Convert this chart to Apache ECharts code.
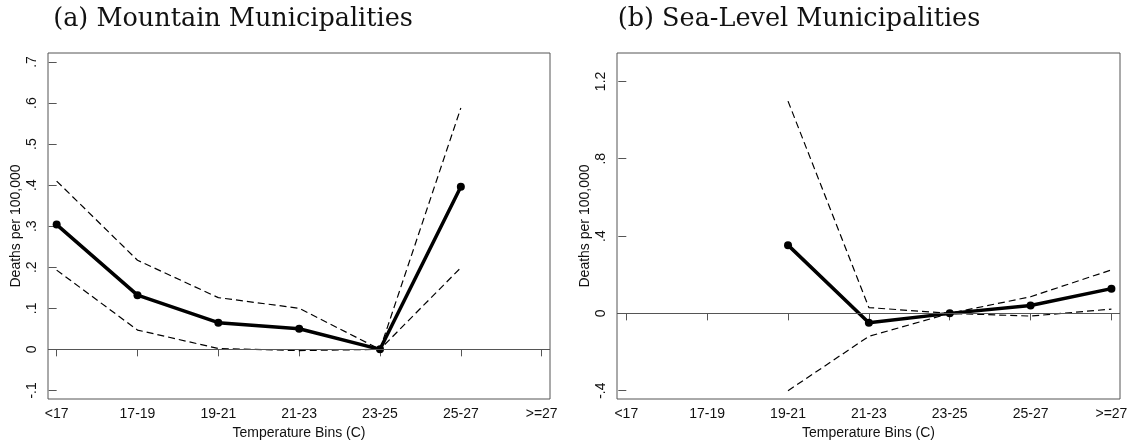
<!DOCTYPE html>
<html>
<head>
<meta charset="utf-8">
<script src="https://cdn.jsdelivr.net/npm/echarts@6/dist/echarts.min.js"></script>
<style>
  html, body { margin: 0; padding: 0; background: #fff; }
  #chart { width: 1131px; height: 445px; }
</style>
</head>
<body>
<div id="chart"></div>
<script>
const bins = ['<17', '17-19', '19-21', '21-23', '23-25', '25-27', '>=27'];

// (a) Mountain municipalities
const mountainEst = [0.304, 0.132, 0.065, 0.050, 0.0, 0.396, null];
const mountainHi = [0.410, 0.217, 0.126, 0.100, 0.0, 0.588, null];
const mountainLo = [0.193, 0.047, 0.002, -0.003, 0.0, 0.199, null];
const mountainTicks = [-0.1, 0, 0.1, 0.2, 0.3, 0.4, 0.5, 0.6, 0.7];

// (b) Sea-level municipalities
const seaEst = [null, null, 0.353, -0.049, 0.0, 0.041, 0.128];
const seaHi = [null, null, 1.098, 0.030, 0.0, 0.086, 0.225];
const seaLo = [null, null, -0.400, -0.119, 0.0, -0.014, 0.022];
const seaTicks = [-0.4, 0, 0.4, 0.8, 1.2];

const binIdx = bins.map((b, i) => i);

function pairs(arr) {
  return arr.map((v, i) => [i, v]).filter(p => p[1] !== null);
}

// Stata style: drop the leading zero (.4, -.1)
function stataFmt(v) {
  if (v === 0) return '0';
  let s = String(v);
  return s.replace(/^(-?)0\./, '$1.');
}

const sans = 'Liberation Sans, Arial, Helvetica, sans-serif';
const axisCol = '#555';

function xAxisFor(gridIndex, min, max) {
  return {
    type: 'value',
    gridIndex: gridIndex,
    min: min,
    max: max,
    name: 'Temperature Bins (C)',
    nameLocation: 'middle',
    nameGap: 24,
    nameTextStyle: { fontFamily: sans, fontSize: 14, color: '#111' },
    axisLine: { show: false },
    splitLine: { show: false },
    axisTick: { show: true, length: 7, customValues: binIdx, lineStyle: { color: axisCol } },
    axisLabel: {
      customValues: binIdx,
      margin: 8,
      fontFamily: sans, fontSize: 14, color: '#111',
      formatter: v => bins[Math.round(v)]
    }
  };
}

function yAxisFor(gridIndex, min, max, ticks) {
  return {
    type: 'value',
    gridIndex: gridIndex,
    min: min,
    max: max,
    name: 'Deaths per 100,000',
    nameLocation: 'middle',
    nameRotate: 90,
    nameGap: 25,
    nameTextStyle: { fontFamily: sans, fontSize: 14, color: '#111' },
    axisLine: { show: false },
    splitLine: { show: false },
    axisTick: { show: true, length: 8, customValues: ticks, lineStyle: { color: axisCol } },
    axisLabel: {
      customValues: ticks,
      rotate: 90,
      margin: 9,
      fontFamily: sans, fontSize: 14, color: '#111',
      formatter: stataFmt
    }
  };
}

function panelSeries(idx, est, hi, lo) {
  const dash = {
    type: 'line', xAxisIndex: idx, yAxisIndex: idx,
    symbol: 'none', silent: true,
    lineStyle: { color: '#000', width: 1.2, type: [7, 4] }
  };
  return [
    Object.assign({}, dash, {
      data: pairs(lo), z: 2,
      markLine: {
        silent: true, symbol: 'none', label: { show: false },
        lineStyle: { color: axisCol, width: 1, type: 'solid' },
        data: [{ yAxis: 0 }]
      }
    }),
    Object.assign({}, dash, { data: pairs(hi), z: 2 }),
    {
      type: 'line', xAxisIndex: idx, yAxisIndex: idx,
      data: pairs(est), z: 3,
      symbol: 'circle', symbolSize: 8,
      itemStyle: { color: '#000' },
      lineStyle: { color: '#000', width: 3.5 }
    }
  ];
}

const chart = echarts.init(document.getElementById('chart'));
chart.setOption({
  animation: false,
  title: [
    {
      text: '(a) Mountain Municipalities', left: 228, top: 1, textAlign: 'center',
      textStyle: { fontFamily: 'DejaVu Serif', fontWeight: 'normal', fontSize: 25.5, color: '#111' }
    },
    {
      text: '(b) Sea-Level Municipalities', left: 794, top: 1, textAlign: 'center',
      textStyle: { fontFamily: 'DejaVu Serif', fontWeight: 'normal', fontSize: 25.5, color: '#111' }
    }
  ],
  grid: [
    { left: 48, top: 53, right: 581, bottom: 46, show: true, borderColor: axisCol, borderWidth: 1 },
    { left: 617, top: 53, right: 11, bottom: 46, show: true, borderColor: axisCol, borderWidth: 1 }
  ],
  xAxis: [xAxisFor(0, -0.107, 6.103), xAxisFor(1, -0.115, 6.106)],
  yAxis: [yAxisFor(0, -0.121, 0.722, mountainTicks), yAxisFor(1, -0.443, 1.347, seaTicks)],
  series: [].concat(
    panelSeries(0, mountainEst, mountainHi, mountainLo),
    panelSeries(1, seaEst, seaHi, seaLo)
  )
});
</script>
</body>
</html>
